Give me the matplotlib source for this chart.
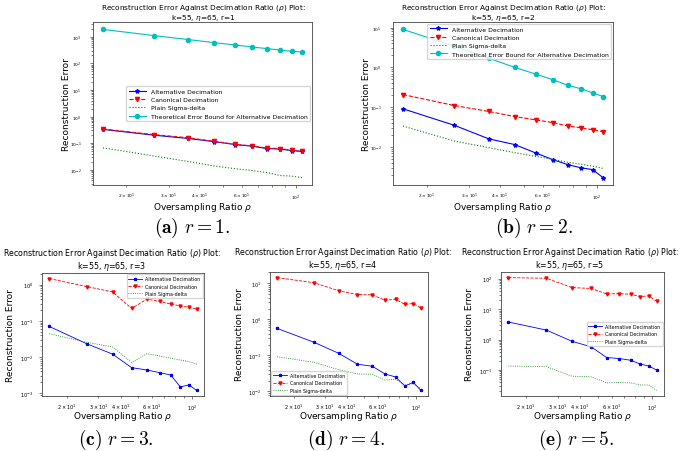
import matplotlib
matplotlib.use('Agg')
import matplotlib.pyplot as plt

# ---------------- data ----------------
rho = [16, 26, 36, 46, 56, 66, 76, 86, 96, 106]

r1_alt = [0.33, 0.20, 0.15, 0.115, 0.089, 0.077, 0.063, 0.060, 0.053, 0.049]
r1_can = [0.34, 0.21, 0.16, 0.117, 0.091, 0.079, 0.065, 0.063, 0.054, 0.049]
r1_sd = [0.067, 0.033, 0.0205, 0.014, 0.011, 0.0094, 0.0079, 0.0061, 0.0058, 0.0051]
r1_bound = [1880, 1100, 780, 600, 490, 412, 356, 316, 283, 266]

r2_alt = [0.091, 0.035, 0.016, 0.0115, 0.0071, 0.0048, 0.0036, 0.0030, 0.0027, 0.0017]
r2_can = [0.207, 0.110, 0.078, 0.058, 0.048, 0.041, 0.0335, 0.0304, 0.0271, 0.0242]
r2_sd = [0.0335, 0.0141, 0.0096, 0.0072, 0.0058, 0.0049, 0.0041, 0.0037, 0.0033, 0.0029]
r2_bound = [9.0, 3.4, 1.7, 1.0, 0.68, 0.49, 0.355, 0.29, 0.23, 0.185]

r3_alt = [0.070, 0.023, 0.0121, 0.0051, 0.0044, 0.0037, 0.0032, 0.0015, 0.0017, 0.0012]
r3_can = [1.47, 0.88, 0.63, 0.22, 0.40, 0.344, 0.29, 0.26, 0.235, 0.21]
r3_sd = [0.044, 0.0255, 0.019, 0.0071, 0.0124, 0.0107, 0.0093, 0.0083, 0.0075, 0.0064]

r4_alt = [0.56, 0.231, 0.114, 0.057, 0.050, 0.0306, 0.0252, 0.0141, 0.0179, 0.0107]
r4_can = [14.4, 10.4, 6.2, 4.9, 4.8, 3.4, 3.6, 2.6, 2.75, 2.08]
r4_sd = [0.092, 0.064, 0.040, 0.0306, 0.030, 0.0208, 0.0217, 0.0151, 0.0164, 0.0121]

r5_alt = [3.78, 2.05, 0.88, 0.58, 0.258, 0.239, 0.21, 0.158, 0.136, 0.10]
r5_can = [108, 103, 51, 47.6, 31.6, 32, 30.8, 25.8, 27.1, 18]
r5_sd = [0.136, 0.129, 0.063, 0.060, 0.038, 0.039, 0.038, 0.0325, 0.0325, 0.0216]

series_names = ["Alternative Decimation", "Canonical Decimation",
                "Plain Sigma-delta", "Theoretical Error Bound for Alternative Decimation"]
title_fmt = "Reconstruction Error Against Decimation Ratio ($\\rho$) Plot:\nk=55, $\\eta$=65, r={}"
xlabel = "Oversampling Ratio $\\rho$"
ylabel = "Reconstruction Error"
captions = ["(a)", "(b)", "(c)", "(d)", "(e)"]

# ---------------- layout ----------------
W, H = 685, 452
fig = plt.figure(figsize=(W / 100, H / 100), dpi=100)

# pixel boxes: left, top, right, bottom
panels = [
    dict(r=1, data=(r1_alt, r1_can, r1_sd, r1_bound), box=(93, 23, 312, 186), big=True,
         loc='center right', ylab_x=66.7, xlab_y=207.5, cap=(192, 228), tx=203),
    dict(r=2, data=(r2_alt, r2_can, r2_sd, r2_bound), box=(393, 23, 613, 186), big=True,
         loc='upper right', ylab_x=366.7, xlab_y=207.5, cap=(534, 228), tx=503),
    dict(r=3, data=(r3_alt, r3_can, r3_sd), box=(42, 274, 204, 397), big=False,
         loc='upper right', ylab_x=10.5, xlab_y=417, cap=(116, 440), tx=112),
    dict(r=4, data=(r4_alt, r4_can, r4_sd), box=(270, 273, 428, 397), big=False,
         loc='lower left', ylab_x=240, xlab_y=417, cap=(346, 440), tx=343),
    dict(r=5, data=(r5_alt, r5_can, r5_sd), box=(501, 273, 664, 397), big=False,
         loc='center right', ylab_x=470, xlab_y=417, cap=(576, 440), tx=570),
]

styles = [dict(color='b', ls='-', marker='*'),
          dict(color='r', ls='--', marker='v'),
          dict(color='g', ls=':', marker=None),
          dict(color='c', ls='-', marker='o')]

for i, p in enumerate(panels):
    l, t, rgt, b = p['box']
    ax = fig.add_axes([l / W, 1 - b / H, (rgt - l) / W, (b - t) / H])
    big = p['big']
    lw = 0.8 if big else 0.6
    ms = 3.0 if big else 2.2
    for vals, name, st in zip(p['data'], series_names, styles):
        ax.plot(rho, vals, color=st['color'], ls=st['ls'], marker=st['marker'],
                lw=lw, ms=ms, label=name)
    ax.set_xscale('log')
    ax.set_yscale('log')
    ax.set_title(title_fmt.format(p['r']), fontsize=5.3 if big else 5.7,
                 pad=1.8 if big else 3.5, linespacing=1.0,
                 x=(p['tx'] - l) / (rgt - l))
    ax.set_xlabel(xlabel, fontsize=6.5, va='center')
    ax.set_ylabel(ylabel, fontsize=6.5, va='center')
    ax.xaxis.set_label_coords(0.5, (b - p['xlab_y']) / (b - t))
    ax.yaxis.set_label_coords((p['ylab_x'] - l) / (rgt - l), 0.5)
    tls = 3.2 if big else 3.6
    ax.tick_params(which='both', labelsize=tls, width=0.5, color='#444')
    ax.tick_params(which='major', length=2.2)
    ax.tick_params(which='minor', length=1.3)
    ax.tick_params(axis='y', which='both', pad=6.0 if big else 4.0)
    ax.tick_params(axis='x', which='both', pad=3.0 if big else 2.5)
    for s in ax.spines.values():
        s.set_linewidth(0.6)
        s.set_color('#444')
    ax.legend(loc=p['loc'], fontsize=4.4 if big else 3.4, handlelength=2.8,
              borderaxespad=0.3)
    fig.text(p['cap'][0] / W, 1 - p['cap'][1] / H,
             "$\\mathbf{%s}\\ r = %d.$" % (captions[i], p['r']),
             math_fontfamily='cm', fontsize=14, ha='center', va='center')

fig.savefig('out.png', dpi=100)
